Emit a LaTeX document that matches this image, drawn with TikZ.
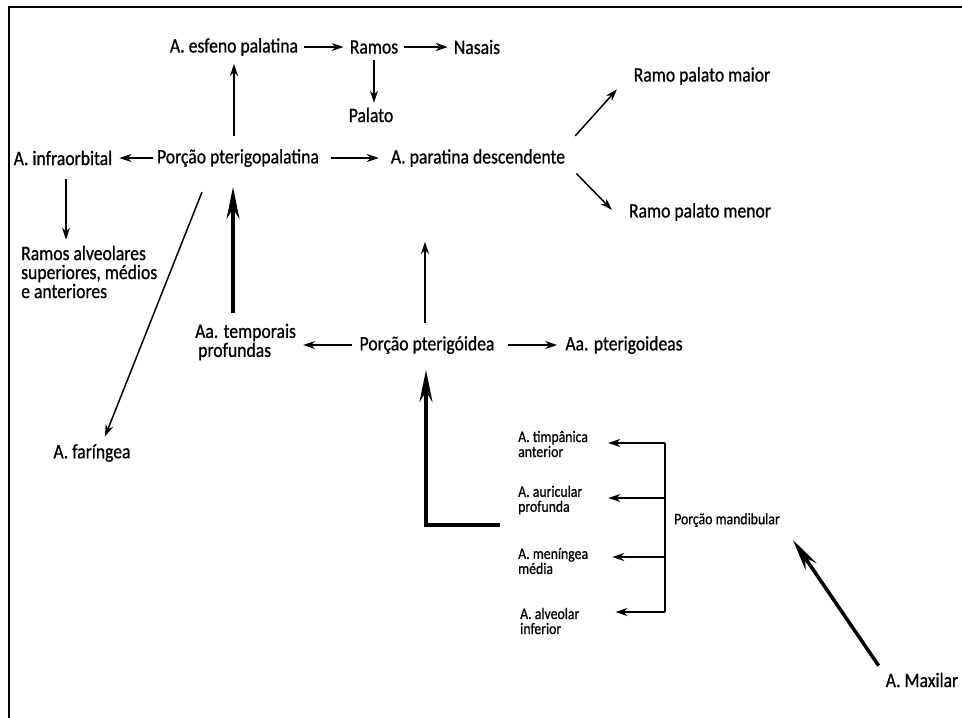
\documentclass[tikz,border=0pt]{standalone}
\usepackage{fontspec}
\setmainfont{Carlito}[FakeStretch=0.86,FakeBold=0.8]
\usetikzlibrary{arrows.meta}
\begin{document}
\begin{tikzpicture}[x=1pt,y=-1pt,
  lab/.style={font=\fontsize{20.5}{19}\selectfont, inner sep=0pt},
  sm/.style={font=\fontsize{16}{15}\selectfont, inner sep=0pt, align=left},
  arr/.style={line width=1.5pt, -{Stealth[length=12pt,width=8pt]}, shorten <=6pt, shorten >=6pt},
  brarr/.style={line width=1.5pt, -{Stealth[length=12pt,width=8pt]}},
  bigarr/.style={line width=3.5pt, -{Stealth[length=32pt,width=13pt]}},
  frame/.style={line width=2pt}]
\useasboundingbox (0,0) rectangle (962,718);
% frame
\coordinate (fl) at (9,718);
\coordinate (fc) at (9,7);
\coordinate (fr) at (962,7);
\draw[frame] (fl) -- (fc) -- (fr);

% nodes
\node[lab] (ep) at (234,47) {A. esfeno palatina};
\node[lab] (ra) at (374,47) {Ramos};
\node[lab] (na) at (477,47) {Nasais};
\node[lab] (pa) at (371,115) {Palato};
\node[lab] (pp) at (238,158) {Porção pterigopalatina};
\node[lab] (io) at (63,158) {A. infraorbital};
\node[lab] (ad) at (478,158) {A. paratina descendente};
\node[lab] (rmai) at (702,76) {Ramo palato maior};
\node[lab] (rmen) at (700,212) {Ramo palato menor};
\node[lab, align=left, anchor=west] (ral) at (21,272) {Ramos alveolares\\superiores, médios\\e anteriores};
\node[lab] (fa) at (92,453) {A. faríngea};
\node[lab, align=left, anchor=west] (tp) at (195,342) {Aa. temporais\\\hspace*{3pt}profundas};
\node[lab] (pt) at (427,345) {Porção pterigóidea};
\node[lab] (ap) at (624,345) {Aa. pterigoideas};
\node[sm, anchor=west] (tim) at (518,444) {A. timpânica\\anterior};
\node[sm, anchor=west] (aur) at (518,500) {A. auricular\\profunda};
\node[sm, anchor=west] (men) at (518,561) {A. meníngea\\média};
\node[sm, anchor=west] (alv) at (520,621) {A. alveolar\\inferior};
\node[sm] (pm) at (727,520) {Porção mandibular};
\node[lab] (am) at (922,680) {A. Maxilar};

% top row
\draw[arr] (ep) -- (ra);
\draw[arr] (ra) -- (na);
\draw[arr, shorten <=6pt, shorten >=5pt] (ra.south) -- (ra.south |- pa.north);
\draw[arr, shorten <=13pt, shorten >=8pt] (ep.south |- pp.north) -- (ep.south);
% pterigopalatina row
\draw[arr, shorten <=4pt, shorten >=7pt] (pp) -- (io);
\draw[arr, shorten <=12pt, shorten >=12pt] (pp) -- (ad);
\draw[arr, shorten <=14pt, shorten >=6pt] ([xshift=3pt]io.south) -- ([xshift=3pt]io.south |- ral.north);
\draw[line width=1.5pt, -{Stealth[length=12pt,width=8pt]}, shorten >=8pt]
  ([xshift=-36pt,yshift=-25pt]pp.south) -- ([xshift=10pt]fa.north);
\draw[arr, shorten <=15pt, shorten >=10pt] ([shift={(0pt,11pt)}]ad.east) -- ([shift={(-10pt,-6pt)}]rmai.west);
\draw[arr, shorten <=16pt, shorten >=10pt] ([shift={(0pt,-4pt)}]ad.east) -- ([shift={(-10pt,-5pt)}]rmen.west);
% big arrow up to pterigopalatina
\draw[bigarr, shorten <=11pt, shorten >=20pt] ([xshift=38pt]tp.north west) -- ([xshift=38pt]tp.north west |- pp.south);
% pterigoidea row
\draw[arr, shorten <=7pt, shorten >=7pt] (pt.west) -- (pt.west -| tp.east);
\draw[arr, shorten <=13pt, shorten >=8pt] (pt) -- (ap);
\draw[arr, shorten <=13pt, shorten >=75pt] ([xshift=-2pt]pt.north) -- ([xshift=-2pt]pt.north |- ad.south);
% L-shaped thick arrow
\coordinate (ls) at (500,525);
\draw[bigarr, shorten >=16pt] (ls) -| ([xshift=-1pt]pt.south);
% mandibular bracket
\coordinate (b1) at (665,443);
\coordinate (b2) at (665,498);
\coordinate (b3) at (665,557);
\coordinate (b4) at (665,612);
\draw[line width=1.5pt] (b1) -- (b4);
\draw[brarr, shorten >=20pt] (b1) -- (b1 -| tim.east);
\draw[brarr, shorten >=26pt] (b2) -- (b2 -| aur.east);
\draw[brarr, shorten >=24pt] (b3) -- (b3 -| men.east);
\draw[brarr, shorten >=36pt] (b4) -- (b4 -| alv.east);
% maxilar
\draw[bigarr] ([shift={(-7pt,7pt)}]am.north west) -- ([shift={(13pt,-13pt)}]pm.south east);
\end{tikzpicture}
\end{document}
